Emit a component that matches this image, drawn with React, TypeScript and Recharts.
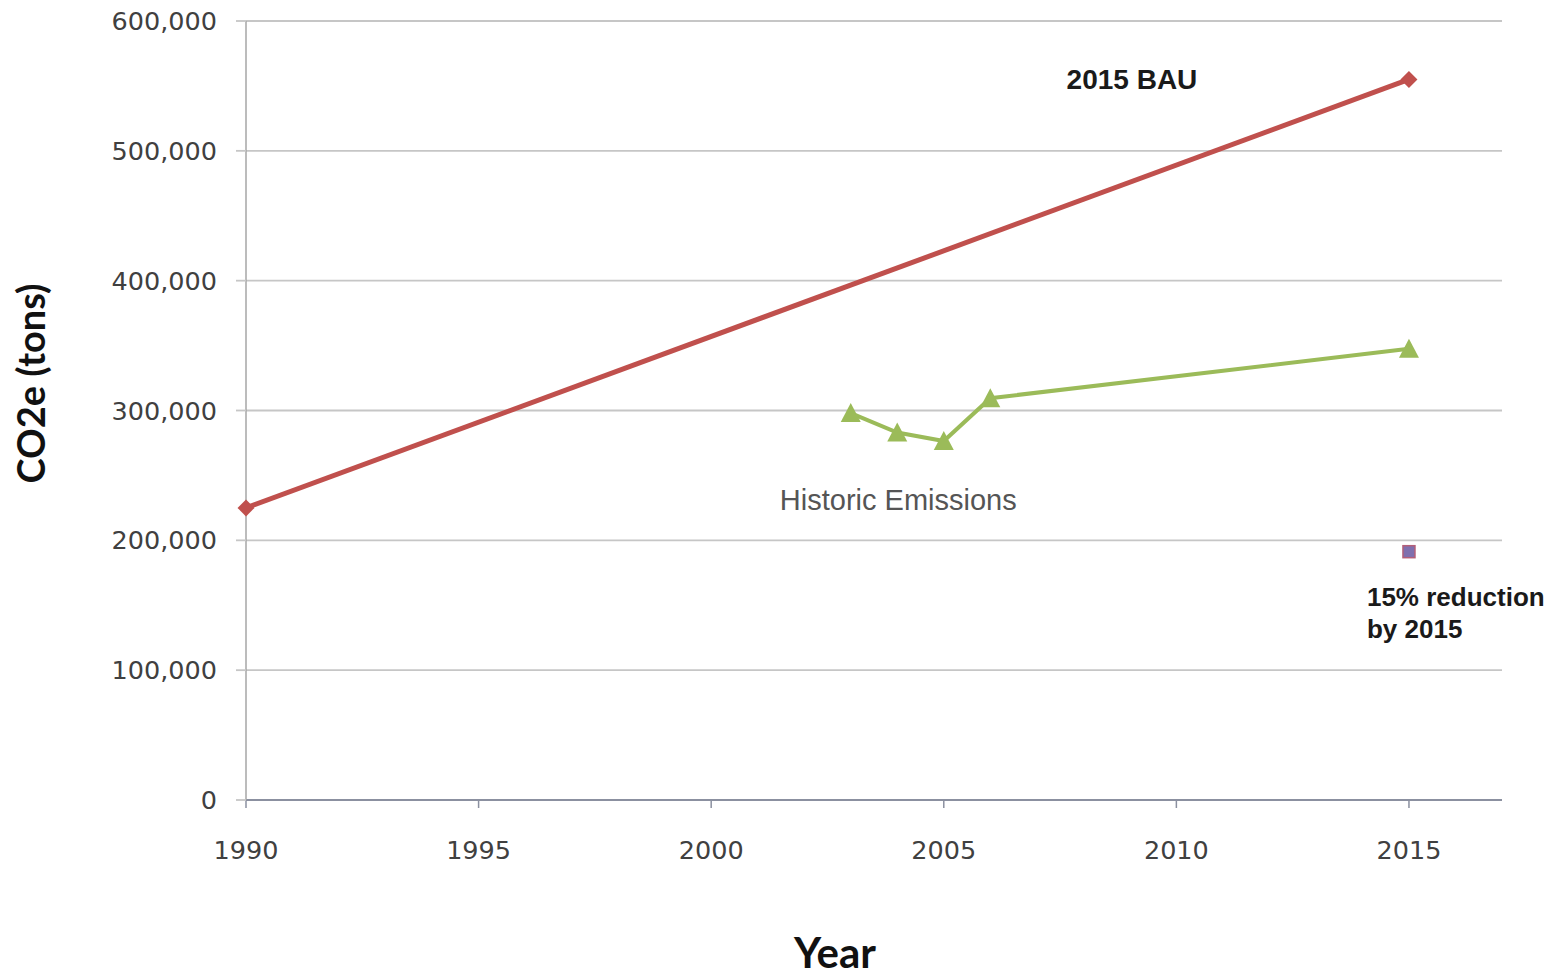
import { LineChart, Line, XAxis, YAxis, CartesianGrid } from "recharts";

// business-as-usual projection
const bauYears = [1990, 2015];
const bauValues = [225000, 555000];

// measured emissions
const historicYears = [2003, 2004, 2005, 2006, 2015];
const historicValues = [298000, 283000, 276500, 309500, 347500];

// target
const targetYears = [2015];
const targetValues = [191250];

const xTicks = [1990, 1995, 2000, 2005, 2010, 2015];
const yTicks = [0, 100000, 200000, 300000, 400000, 500000, 600000];

const bauData = bauYears.map((year, i) => ({ year, value: bauValues[i] }));
const historicData = historicYears.map((year, i) => ({ year, value: historicValues[i] }));
const targetData = targetYears.map((year, i) => ({ year, value: targetValues[i] }));

const tickStyle = { fontFamily: "DejaVu Sans", fontSize: 25.5, fill: "#404040" };

const Diamond = (props: any) => {
  const { cx, cy, index } = props;
  const s = 8.5;
  return (
    <path
      key={`bau-${index}`}
      d={`M${cx},${cy - s}L${cx + s},${cy}L${cx},${cy + s}L${cx - s},${cy}Z`}
      fill="#c0504d"
    />
  );
};

const Triangle = (props: any) => {
  const { cx, cy, index } = props;
  return (
    <path
      key={`hist-${index}`}
      d={`M${cx},${cy - 10}L${cx + 10},${cy + 9}L${cx - 10},${cy + 9}Z`}
      fill="#9bbb59"
    />
  );
};

const Square = (props: any) => {
  const { cx, cy, index } = props;
  return (
    <rect
      key={`tgt-${index}`}
      x={cx - 6}
      y={cy - 6}
      width={12}
      height={12}
      fill="#7f6fae"
      stroke="#b45f78"
      strokeWidth={1.5}
    />
  );
};

const bauLabel = (props: any) => {
  if (props.index !== bauData.length - 1) return <g key={`bl-${props.index}`} />;
  return (
    <text
      key="bl"
      x={props.x - 277}
      y={props.y + 10}
      textAnchor="middle"
      fontFamily="Liberation Sans"
      fontWeight="bold"
      fontSize={28}
      fill="#1a1a1a"
    >
      2015 BAU
    </text>
  );
};

const historicLabel = (props: any) => {
  if (props.index !== 1) return <g key={`hl-${props.index}`} />;
  return (
    <text
      key="hl"
      x={props.x + 1}
      y={props.y + 77}
      textAnchor="middle"
      fontFamily="Liberation Sans"
      fontSize={29}
      fill="#555555"
    >
      Historic Emissions
    </text>
  );
};

const targetLabel = (props: any) => (
  <text
    key="tl"
    x={props.x - 42}
    y={props.y + 54}
    fontFamily="Liberation Sans"
    fontWeight="bold"
    fontSize={26}
    fill="#1a1a1a"
  >
    <tspan x={props.x - 42}>15% reduction</tspan>
    <tspan x={props.x - 42} dy={32}>
      by 2015
    </tspan>
  </text>
);

const App = () => {
  return (
    <div style={{ position: "absolute", left: 0, top: 0, background: "#fff" }}>
      <LineChart
        width={1555}
        height={976}
        margin={{ top: 21, right: 53, left: 0, bottom: 0 }}
      >
        <CartesianGrid vertical={false} stroke="#c6c6c6" strokeWidth={1.8} />
        <XAxis
          dataKey="year"
          type="number"
          domain={[1990, 2017]}
          ticks={xTicks}
          height={176}
          tick={tickStyle}
          tickSize={8}
          tickMargin={33}
          axisLine={{ stroke: "#8b90a0", strokeWidth: 2 }}
          tickLine={{ stroke: "#8b90a0", strokeWidth: 1.5 }}
          label={{
            content: (p: any) => (
              <text
                x={p.viewBox.x + p.viewBox.width / 2 - 39}
                y={p.viewBox.y + 168}
                textAnchor="middle"
                fontFamily="Lato"
                fontWeight="bold"
                fontSize={42}
                fill="#111"
              >
                Year
              </text>
            ),
          }}
        />
        <YAxis
          type="number"
          domain={[0, 600000]}
          ticks={yTicks}
          width={246}
          tick={tickStyle}
          tickSize={10}
          tickMargin={19}
          tickFormatter={(v: number) => v.toLocaleString("en-US")}
          axisLine={{ stroke: "#a6a6a6", strokeWidth: 1.5 }}
          tickLine={{ stroke: "#c6c6c6", strokeWidth: 1.8 }}
          label={{
            content: (p: any) => {
              const x = 45;
              const y = p.viewBox.y + p.viewBox.height / 2 - 27;
              return (
                <text
                  x={x}
                  y={y}
                  transform={`rotate(-90, ${x}, ${y})`}
                  textAnchor="middle"
                  fontFamily="Lato"
                  fontWeight="bold"
                  fontSize={38}
                  fill="#111"
                >
                  CO2e (tons)
                </text>
              );
            },
          }}
        />
        <Line
          data={bauData}
          dataKey="value"
          stroke="#c0504d"
          strokeWidth={5}
          dot={Diamond}
          activeDot={false}
          label={bauLabel}
          isAnimationActive={false}
        />
        <Line
          data={historicData}
          dataKey="value"
          stroke="#9bbb59"
          strokeWidth={4}
          dot={Triangle}
          activeDot={false}
          label={historicLabel}
          isAnimationActive={false}
        />
        <Line
          data={targetData}
          dataKey="value"
          stroke="none"
          dot={Square}
          activeDot={false}
          label={targetLabel}
          isAnimationActive={false}
        />
      </LineChart>
    </div>
  );
};

export default App;
